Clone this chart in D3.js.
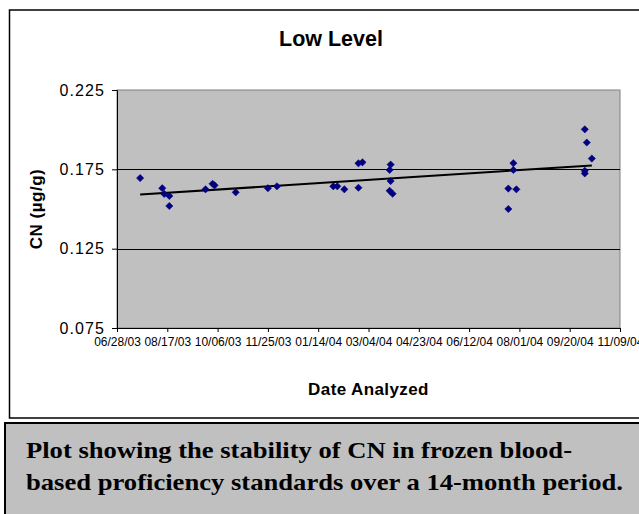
<!DOCTYPE html>
<html>
<head>
<meta charset="utf-8">
<script src="https://cdn.jsdelivr.net/npm/d3@7"></script>
<style>
  html, body { margin: 0; padding: 0; background: #fff; }
  svg { display: block; }
</style>
</head>
<body>
<svg id="chart" width="639" height="514"></svg>
<script>
// ---- data ----
const title = "Low Level";
const xTitle = "Date Analyzed";
const yTitle = "CN (µg/g)";
const captionLines = [
  "Plot showing the stability of CN in frozen blood-",
  "based proficiency standards over a 14-month period."
];
const dates = [
  "2003-07-21", "2003-08-12", "2003-08-14", "2003-08-19", "2003-08-19",
  "2003-09-24", "2003-10-01", "2003-10-03", "2003-10-24", "2003-11-25",
  "2003-12-04", "2004-01-29", "2004-02-02", "2004-02-09", "2004-02-23",
  "2004-02-27", "2004-02-23", "2004-03-26", "2004-03-25", "2004-03-26",
  "2004-03-25", "2004-03-28", "2004-07-21", "2004-07-29", "2004-07-21",
  "2004-07-26", "2004-07-26", "2004-10-05", "2004-10-07", "2004-10-12",
  "2004-10-05", "2004-10-05"
];
const values = [
  0.1695, 0.1631, 0.1595, 0.1582, 0.1519,
  0.1624, 0.1659, 0.1649, 0.1605, 0.1631,
  0.1643, 0.1643, 0.1643, 0.1624, 0.1788,
  0.1794, 0.1634, 0.1780, 0.1746, 0.1676,
  0.1615, 0.1596, 0.1629, 0.1624, 0.1500,
  0.1789, 0.1746, 0.2002, 0.1919, 0.1818,
  0.1741, 0.1724
];
const xTickLabels = ["06/28/03", "08/17/03", "10/06/03", "11/25/03", "01/14/04",
  "03/04/04", "04/23/04", "06/12/04", "08/01/04", "09/20/04", "11/09/04"];
const yTickValues = [0.075, 0.125, 0.175, 0.225];

// ---- drawing ----
const svg = d3.select("#chart");
const parseISO = d3.utcParse("%Y-%m-%d");
const parseTick = d3.utcParse("%m/%d/%y");
const fmtTick = d3.utcFormat("%m/%d/%y");
const tickDates = xTickLabels.map(parseTick);

const plot = { left: 117, right: 620, top: 90, bottom: 328 };

const x = d3.scaleUtc()
  .domain([tickDates[0], tickDates[tickDates.length - 1]])
  .range([plot.left, plot.right]);
const y = d3.scaleLinear()
  .domain([yTickValues[0], yTickValues[yTickValues.length - 1]])
  .range([plot.bottom, plot.top]);

// chart box
svg.append("rect")
  .attr("x", 9.5).attr("y", 10).attr("width", 700).attr("height", 408)
  .attr("fill", "#fff").attr("stroke", "#000").attr("stroke-width", 1.5);

// caption box
svg.append("rect")
  .attr("x", 5).attr("y", 423).attr("width", 700).attr("height", 200)
  .attr("fill", "#c0c0c0").attr("stroke", "#000").attr("stroke-width", 2);

const captionWidths = [546, 597];
captionLines.forEach((t, i) => {
  svg.append("text")
    .attr("x", 26).attr("y", 458 + i * 32)
    .attr("font-family", "'Liberation Serif', 'Times New Roman', serif")
    .attr("font-weight", "bold").attr("font-size", 23)
    .attr("textLength", captionWidths[i]).attr("lengthAdjust", "spacingAndGlyphs")
    .attr("fill", "#000")
    .text(t);
});

// plot area
svg.append("rect")
  .attr("x", plot.left).attr("y", plot.top)
  .attr("width", plot.right - plot.left).attr("height", plot.bottom - plot.top)
  .attr("fill", "#c0c0c0").attr("stroke", "#808080").attr("stroke-width", 1);

// gridlines
svg.append("g")
  .selectAll("line")
  .data(yTickValues.filter(v => v !== yTickValues[0] && v !== yTickValues[yTickValues.length - 1]))
  .join("line")
  .attr("x1", plot.left).attr("x2", plot.right)
  .attr("y1", d => Math.round(y(d)) + 0.5).attr("y2", d => Math.round(y(d)) + 0.5)
  .attr("stroke", "#000").attr("stroke-width", 1);

// axes
const yAxis = d3.axisLeft(y).tickValues(yTickValues).tickFormat(d3.format(".3f"))
  .tickSize(5).tickPadding(7);
const gy = svg.append("g").attr("transform", `translate(${plot.left},0)`).call(yAxis);
gy.select(".domain").attr("stroke", "#000");
gy.selectAll(".tick line").attr("stroke", "#000");
gy.selectAll(".tick text")
  .attr("font-family", "Arial, 'Liberation Sans', sans-serif")
  .attr("font-size", 16).attr("letter-spacing", 1.1).attr("fill", "#000");

const xAxis = d3.axisBottom(x).tickValues(tickDates).tickFormat(fmtTick)
  .tickSize(4).tickPadding(5);
const gx = svg.append("g").attr("transform", `translate(0,${plot.bottom})`).call(xAxis);
gx.select(".domain").attr("stroke", "#000");
gx.selectAll(".tick line").attr("stroke", "#000");
gx.selectAll(".tick text")
  .attr("font-family", "Arial, 'Liberation Sans', sans-serif")
  .attr("font-size", 12).attr("fill", "#000");

// trend line (least squares fit on the data)
const pts = dates.map((d, i) => ({ t: parseISO(d), v: values[i] }));
const xs = pts.map(p => +p.t), ys = pts.map(p => p.v);
const mx = d3.mean(xs), my = d3.mean(ys);
const slope = d3.sum(xs.map((xi, i) => (xi - mx) * (ys[i] - my))) / d3.sum(xs.map(xi => (xi - mx) ** 2));
const icpt = my - slope * mx;
const tMin = d3.min(xs), tMax = d3.max(xs);
svg.append("line")
  .attr("x1", x(new Date(tMin))).attr("y1", y(icpt + slope * tMin))
  .attr("x2", x(new Date(tMax))).attr("y2", y(icpt + slope * tMax))
  .attr("stroke", "#000").attr("stroke-width", 2);

// markers
svg.append("g").selectAll("path")
  .data(pts)
  .join("path")
  .attr("transform", d => `translate(${x(d.t)},${y(d.v)})`)
  .attr("d", "M0,-3.6L3.6,0L0,3.6L-3.6,0Z")
  .attr("fill", "#000080").attr("stroke", "#000080").attr("stroke-width", 0.6);

// titles
svg.append("text")
  .attr("x", 331).attr("y", 46).attr("text-anchor", "middle")
  .attr("font-family", "Arial, 'Liberation Sans', sans-serif")
  .attr("font-weight", "bold").attr("font-size", 21.5).attr("fill", "#000")
  .text(title);

svg.append("text")
  .attr("x", (plot.left + plot.right) / 2).attr("y", 395).attr("text-anchor", "middle")
  .attr("font-family", "Arial, 'Liberation Sans', sans-serif")
  .attr("font-weight", "bold").attr("font-size", 17).attr("letter-spacing", 0.4).attr("fill", "#000")
  .text(xTitle);

svg.append("text")
  .attr("transform", `translate(42,${(plot.top + plot.bottom) / 2}) rotate(-90)`)
  .attr("text-anchor", "middle")
  .attr("font-family", "Arial, 'Liberation Sans', sans-serif")
  .attr("font-weight", "bold").attr("font-size", 17).attr("letter-spacing", 0.5).attr("fill", "#000")
  .text(yTitle);
</script>
</body>
</html>
